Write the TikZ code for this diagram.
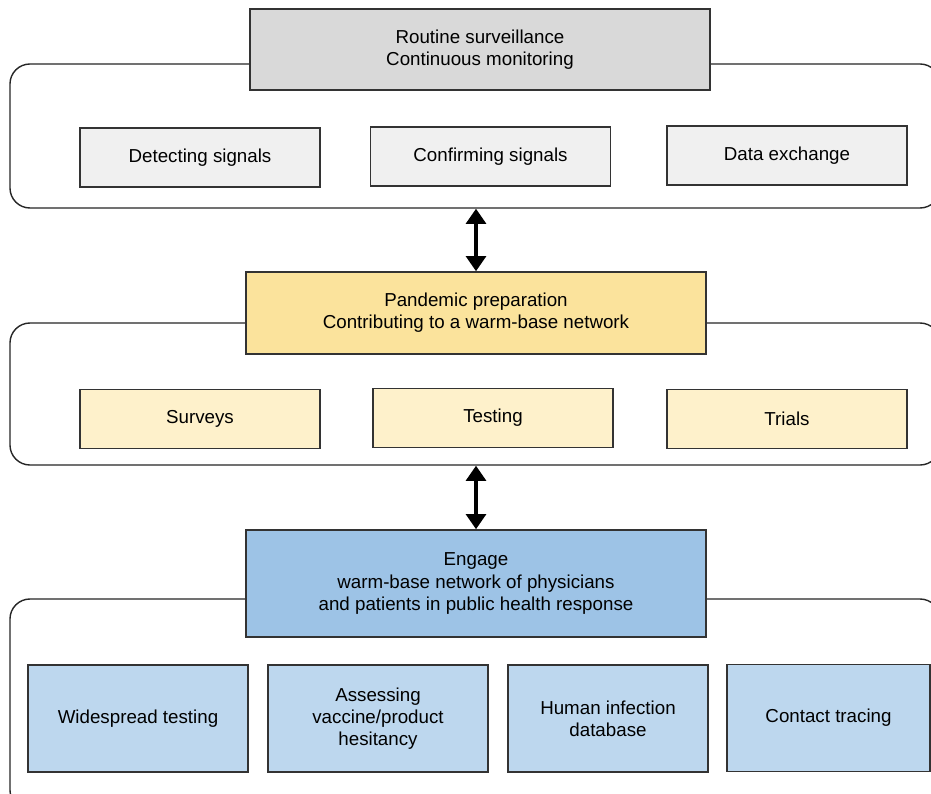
\documentclass[tikz,border=0pt]{standalone}
\usepackage{fontspec}
\setmainfont{Liberation Sans}
\usepackage{xcolor}
\usetikzlibrary{arrows.meta}

\definecolor{headgray}{HTML}{D9D9D9}
\definecolor{boxgray}{HTML}{F0F0F0}
\definecolor{headgold}{HTML}{FBE39C}
\definecolor{boxgold}{HTML}{FEF1CB}
\definecolor{headblue}{HTML}{9DC3E6}
\definecolor{boxblue}{HTML}{BDD7EE}

\tikzset{
  stage/.style={draw=black!85,line width=1.2pt,rounded corners=0.6cm},
  headbox/.style={draw=black!80,line width=1.3pt,align=center,inner sep=0pt,
    minimum width=13.8cm,font=\fontsize{16}{19}\selectfont},
  itembox/.style={draw=black!80,line width=1.3pt,align=center,inner sep=0pt,
    minimum width=7.2cm,minimum height=1.76cm,font=\fontsize{16}{19}\selectfont},
  linkarrow/.style={{Triangle[length=13pt,width=17pt]}-{Triangle[length=13pt,width=17pt]},line width=3pt}
}

\begin{document}
\begin{tikzpicture}[x=0.03cm,y=-0.03cm]
        \useasboundingbox (0,0) rectangle (931,794);
        \clip (0,0) rectangle (931,794);
        \fill[white] (0,0) rectangle (931,794);
        % Containers
        \node[stage,minimum width=27.9cm,minimum height=4.32cm] (C1) at (475,136) {};
        \node[stage,minimum width=27.9cm,minimum height=4.26cm] (C2) at (475,394) {};
        \node[stage,minimum width=27.9cm,minimum height=6.33cm] (C3) at (475,704.5) {};
        % Routine surveillance
        \node[headbox,fill=headgray,minimum height=2.43cm] (H1) at (480,49.5) {Routine surveillance\\Continuous monitoring};
        \node[itembox,fill=boxgray] (detect) at (200,157.5) {Detecting signals};
        \node[itembox,fill=boxgray] (confirm) at (490.5,156.5) {Confirming signals};
        \node[itembox,fill=boxgray] (exchange) at (787,155.5) {Data exchange};
        % Pandemic preparation
        \node[headbox,fill=headgold,minimum height=2.46cm] (H2) at (476,313) {Pandemic preparation\\Contributing to a warm-base network};
        \node[itembox,fill=boxgold] (surveys) at (200,419) {Surveys};
        \node[itembox,fill=boxgold] (testing) at (493,418) {Testing};
        \node[itembox,fill=boxgold] (trials) at (787,419) {Trials};
        % Engage
        \node[headbox,fill=headblue,minimum height=3.21cm] (H3) at (476,583.5) {Engage\\warm-base network of physicians\\and patients in public health response};
        \node[itembox,fill=boxblue,minimum width=6.6cm,minimum height=3.21cm] (widespread) at (138,718.5) {Widespread testing};
        \node[itembox,fill=boxblue,minimum width=6.6cm,minimum height=3.21cm] (hesitancy) at (378,718.5) {Assessing\\vaccine/product\\hesitancy};
        \node[itembox,fill=boxblue,minimum width=6.0cm,minimum height=3.21cm] (infection) at (608,718.5) {Human infection\\database};
        \node[itembox,fill=boxblue,minimum width=6.09cm,minimum height=3.21cm] (tracing) at (828.5,718) {Contact tracing};
        % Links between stages
        \draw[linkarrow] (H2.north |- C1.south) -- (H2.north);
        \draw[linkarrow] (H3.north |- C2.south) -- (H3.north);
\end{tikzpicture}
\end{document}
